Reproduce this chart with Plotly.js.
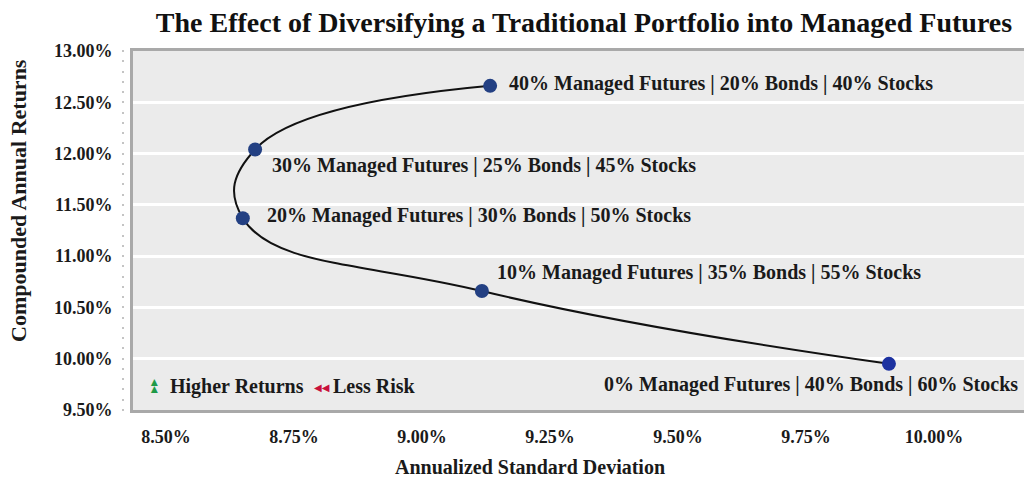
<!DOCTYPE html>
<html>
<head>
<meta charset="utf-8">
<script src="https://cdn.plot.ly/plotly-3.0.1.min.js"></script>
<style>html,body{margin:0;padding:0;background:#fff;}#chart{width:1024px;height:478px;}</style>
</head>
<body>
<div id="chart"></div>
<script>
// Data
const stdDev = [9.912, 9.117, 8.650, 8.674, 9.133];          // Annualized Standard Deviation (%)
const returns = [9.95, 10.66, 11.37, 12.04, 12.66];          // Compounded Annual Returns (%)
const portfolioLabels = [
  "0% Managed Futures | 40% Bonds | 60% Stocks",
  "10% Managed Futures | 35% Bonds | 55% Stocks",
  "20% Managed Futures | 30% Bonds | 50% Stocks",
  "30% Managed Futures | 25% Bonds | 45% Stocks",
  "40% Managed Futures | 20% Bonds | 40% Stocks"
];
const xTickVals = [8.5, 8.75, 9.0, 9.25, 9.5, 9.75, 10.0];
const xTickText = ["8.50%", "8.75%", "9.00%", "9.25%", "9.50%", "9.75%", "10.00%"];
const yTickVals = [9.5, 10.0, 10.5, 11.0, 11.5, 12.0, 12.5, 13.0];
const yTickText = ["9.50%", "10.00%", "10.50%", "11.00%", "11.50%", "12.00%", "12.50%", "13.00%"];

const FONT = "'Liberation Serif', 'Times New Roman', serif";
const labelFont = {family: FONT, size: 20, color: '#1a1a1a', weight: 'bold'};
const tickFont = {family: FONT, size: 18, color: '#1a1a1a', weight: 'bold'};

// label placement (pixel offsets from each point)
const labelStyle = [
  {xanchor: 'right', xshift: 131, yshift: -21},
  {xanchor: 'left', xshift: 13, yshift: 19},
  {xanchor: 'left', xshift: 22, yshift: 3},
  {xanchor: 'left', xshift: 15, yshift: -16},
  {xanchor: 'left', xshift: 17, yshift: 2}
];

const traces = [
  {
    x: stdDev, y: returns, type: 'scatter', mode: 'lines+markers',
    line: {color: '#111', width: 2, shape: 'spline', smoothing: 1.3},
    marker: {size: 14, color: ['#1c31a0', '#234083', '#234083', '#234083', '#234083']},
    hoverinfo: 'skip', showlegend: false, cliponaxis: false
  },
  {
    x: stdDev, y: returns, type: 'scatter', mode: 'none', yaxis: 'y2',
    hoverinfo: 'skip', showlegend: false
  }
];

const annotations = portfolioLabels.map((t, i) => Object.assign({
  x: stdDev[i], y: returns[i], xref: 'x', yref: 'y', text: t,
  showarrow: false, yanchor: 'middle', font: labelFont
}, labelStyle[i]));

const px = v => (v - 110) / 914;          // paper x from pixel
const py = v => (478 - 68 - v) / 359;     // paper y from pixel
annotations.push(
  {xref: 'paper', yref: 'paper', x: px(155), y: py(386), xanchor: 'center', yanchor: 'middle',
   text: "◀◀", textangle: 90, showarrow: false, font: {family: 'DejaVu Sans', size: 9, color: '#1f9a48'}},
  {xref: 'paper', yref: 'paper', x: px(168), y: py(386), xanchor: 'left', yanchor: 'middle',
   text: "Higher Returns", showarrow: false, font: labelFont},
  {xref: 'paper', yref: 'paper', x: px(312), y: py(386), xanchor: 'left', yanchor: 'middle',
   text: "◀◀", showarrow: false, font: {family: 'DejaVu Sans', size: 10, color: '#c8103c'}, yshift: -1},
  {xref: 'paper', yref: 'paper', x: px(331), y: py(386), xanchor: 'left', yanchor: 'middle',
   text: "Less Risk", showarrow: false, font: labelFont},
  {xref: 'paper', yref: 'paper', x: px(530), y: py(467), xanchor: 'center', yanchor: 'middle',
   text: "Annualized Standard Deviation", showarrow: false, font: labelFont},
  {xref: 'paper', yref: 'paper', x: px(18), y: py(201), xanchor: 'center', yanchor: 'middle',
   text: "Compounded Annual Returns", textangle: -90, showarrow: false,
   font: {family: FONT, size: 22, color: '#1a1a1a', weight: 'bold'}}
);

const layout = {
  width: 1024, height: 478,
  margin: {l: 110, r: 0, t: 51, b: 68, pad: 0},
  paper_bgcolor: '#ffffff', plot_bgcolor: '#ebebeb',
  title: {text: "The Effect of Diversifying a Traditional Portfolio into Managed Futures",
          x: px(584), xref: 'paper', xanchor: 'center', y: 1 - 22 / 478, yref: 'container', yanchor: 'middle',
          font: {family: FONT, size: 28, color: '#111', weight: 'bold'}},
  xaxis: {
    domain: [px(133), 1], range: [8.4355, 10.1758],
    tickmode: 'array', tickvals: xTickVals, ticktext: xTickText,
    showgrid: false, zeroline: false, ticks: '', ticklabelstandoff: 8,
    showline: true, mirror: true, linecolor: '#a9a9a9', linewidth: 3,
    tickfont: tickFont
  },
  yaxis: {
    range: [9.5, 13], tickmode: 'array', tickvals: yTickVals, ticktext: yTickText,
    showgrid: true, gridcolor: '#ffffff', gridwidth: 3, zeroline: false,
    ticks: '', ticklabelstandoff: 14,
    showline: true, mirror: true, linecolor: '#a9a9a9', linewidth: 3,
    tickfont: tickFont
  },
  yaxis2: {
    overlaying: 'y', anchor: 'free', position: px(124), side: 'left',
    range: [9.5, 13], tickmode: 'linear', tick0: 9.5, dtick: 0.1,
    ticks: 'outside', ticklen: 2, tickwidth: 2, tickcolor: '#c4c4c4',
    showticklabels: false, showgrid: false, zeroline: false, showline: false
  },
  annotations: annotations,
  showlegend: false
};

Plotly.newPlot('chart', traces, layout, {staticPlot: true, displayModeBar: false});
</script>
</body>
</html>
